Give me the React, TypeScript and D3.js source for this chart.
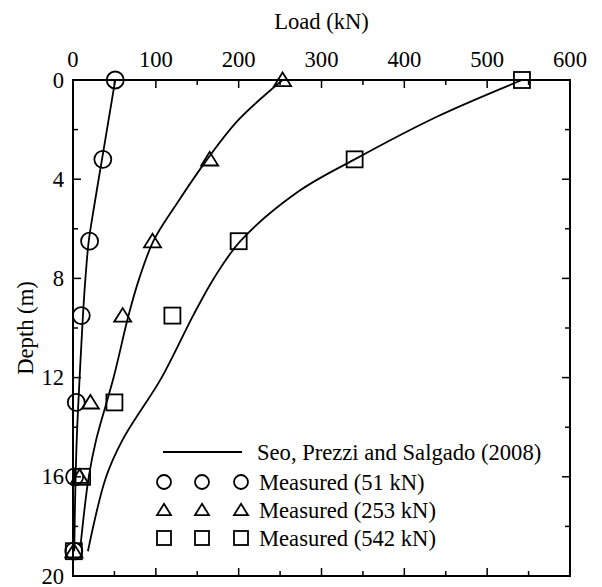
import React from "react";
import * as d3 from "d3";

const xTicks = [0, 100, 200, 300, 400, 500, 600];
const yTicks = [0, 4, 8, 12, 16, 20];

// Seo, Prezzi and Salgado (2008) predicted curves
const curve51Depth = [0, 1, 2, 3.2, 5, 6.5, 8, 9.5, 12, 14.5, 17, 19];
const curve51Load = [51, 46, 41, 35, 26, 19, 15, 12, 8, 4.5, 2.5, 1.5];
const curve253Depth = [0, 1.6, 3.2, 5, 6.5, 8, 9.5, 12, 14.5, 16, 18.8];
const curve253Load = [253, 200, 162, 125, 97, 80, 67, 49, 28, 19, 9];
const curve542Depth = [0, 1.5, 3.2, 4.5, 6.5, 8, 9.5, 12, 14.5, 16, 19];
const curve542Load = [542, 438, 340, 272, 202, 170, 145, 107, 60, 40, 18];

// Measured
const measDepth = [0, 3.2, 6.5, 9.5, 13, 16, 19];
const meas51 = [51, 36, 20, 10, 4, 2, 1];
const meas253 = [253, 165, 96, 60, 21, 8, 1];
const meas542 = [542, 340, 200, 120, 50, 11, 1];

const W = 602;
const H = 587;
const L = 73, R = 570, T = 80, B = 576;
const FONT = "'Liberation Serif', 'DejaVu Serif', 'Noto Serif', serif";
const FS = 22.6;

const x = d3.scaleLinear().domain([0, 600]).range([L, R]);
const y = d3.scaleLinear().domain([0, 20]).range([T, B]);

const line = d3
  .line<[number, number]>()
  .x((d) => x(d[0]))
  .y((d) => y(d[1]))
  .curve(d3.curveCatmullRom.alpha(0.5));

function zip(loads: number[], depths: number[]): [number, number][] {
  return loads.map((v, i) => [v, depths[i]]);
}

function Circle({ cx, cy, s }: { cx: number; cy: number; s: number }) {
  return <circle cx={cx} cy={cy} r={s / 2} fill="none" stroke="#000" strokeWidth={1.8} />;
}
function Square({ cx, cy, s }: { cx: number; cy: number; s: number }) {
  return <rect x={cx - s / 2} y={cy - s / 2} width={s} height={s} fill="none" stroke="#000" strokeWidth={1.8} />;
}
function Tri({ cx, cy, s }: { cx: number; cy: number; s: number }) {
  const h = s * 0.8;
  const d = `M${cx},${cy - h * 0.55}L${cx + s / 2},${cy + h * 0.45}L${cx - s / 2},${cy + h * 0.45}Z`;
  return <path d={d} fill="none" stroke="#000" strokeWidth={1.8} />;
}

export default function App() {
  const xMinor = d3.range(0, 601, 50);
  const yMinor = d3.range(0, 20.01, 2);
  const legY = [452, 482, 510, 538];
  const legX = [164, 202, 241];
  return (
    <svg
      width={W}
      height={H}
      fontFamily={FONT}
      fontSize={FS}
      style={{ position: "absolute", left: 0, top: 0, background: "#fff", fontFamily: FONT }}
    >
      <rect x={L} y={T} width={R - L} height={B - T} fill="none" stroke="#000" strokeWidth={2} />
      {xMinor.map((v) => {
        const len = v % 100 === 0 ? 8 : 5;
        return (
          <g key={"xt" + v}>
            <line x1={x(v)} x2={x(v)} y1={T} y2={T + len} stroke="#000" strokeWidth={1.5} />
            <line x1={x(v)} x2={x(v)} y1={B} y2={B - len} stroke="#000" strokeWidth={1.5} />
          </g>
        );
      })}
      {yMinor.map((v) => {
        const len = v % 4 === 0 ? 8 : 5;
        return (
          <g key={"yt" + v}>
            <line x1={L} x2={L + len} y1={y(v)} y2={y(v)} stroke="#000" strokeWidth={1.5} />
            <line x1={R} x2={R - len} y1={y(v)} y2={y(v)} stroke="#000" strokeWidth={1.5} />
          </g>
        );
      })}
      {xTicks.map((v) => (
        <text key={"xl" + v} x={x(v)} y={T - 13} textAnchor="middle">
          {v}
        </text>
      ))}
      {yTicks.map((v) => (
        <text key={"yl" + v} x={L - 9} y={y(v) + 7.5} textAnchor="end">
          {v}
        </text>
      ))}
      <text x={(L + R) / 2} y={29} textAnchor="middle">
        Load (kN)
      </text>
      <text transform={`translate(33,${(T + B) / 2}) rotate(-90)`} textAnchor="middle">
        Depth (m)
      </text>

      {[zip(curve51Load, curve51Depth), zip(curve253Load, curve253Depth), zip(curve542Load, curve542Depth)].map((pts, i) => (
        <path key={"c" + i} d={line(pts) || ""} fill="none" stroke="#000" strokeWidth={1.8} />
      ))}

      {meas51.map((v, i) => (
        <Circle key={"m1" + i} cx={x(v)} cy={y(measDepth[i])} s={17} />
      ))}
      {meas253.map((v, i) => (
        <Tri key={"m2" + i} cx={x(v)} cy={y(measDepth[i])} s={17} />
      ))}
      {meas542.map((v, i) => (
        <Square key={"m3" + i} cx={x(v)} cy={y(measDepth[i])} s={16} />
      ))}

      <line x1={163} x2={242} y1={legY[0]} y2={legY[0]} stroke="#000" strokeWidth={1.8} />
      <text x={257} y={legY[0] + 7.5}>
        Seo, Prezzi and Salgado (2008)
      </text>
      {legX.map((lx) => (
        <g key={"lg" + lx}>
          <Circle cx={lx} cy={legY[1]} s={14} />
          <Tri cx={lx} cy={legY[2]} s={14} />
          <Square cx={lx} cy={legY[3]} s={14} />
        </g>
      ))}
      <text x={259} y={legY[1] + 7.5}>Measured (51 kN)</text>
      <text x={259} y={legY[2] + 7.5}>Measured (253 kN)</text>
      <text x={259} y={legY[3] + 7.5}>Measured (542 kN)</text>
    </svg>
  );
}
